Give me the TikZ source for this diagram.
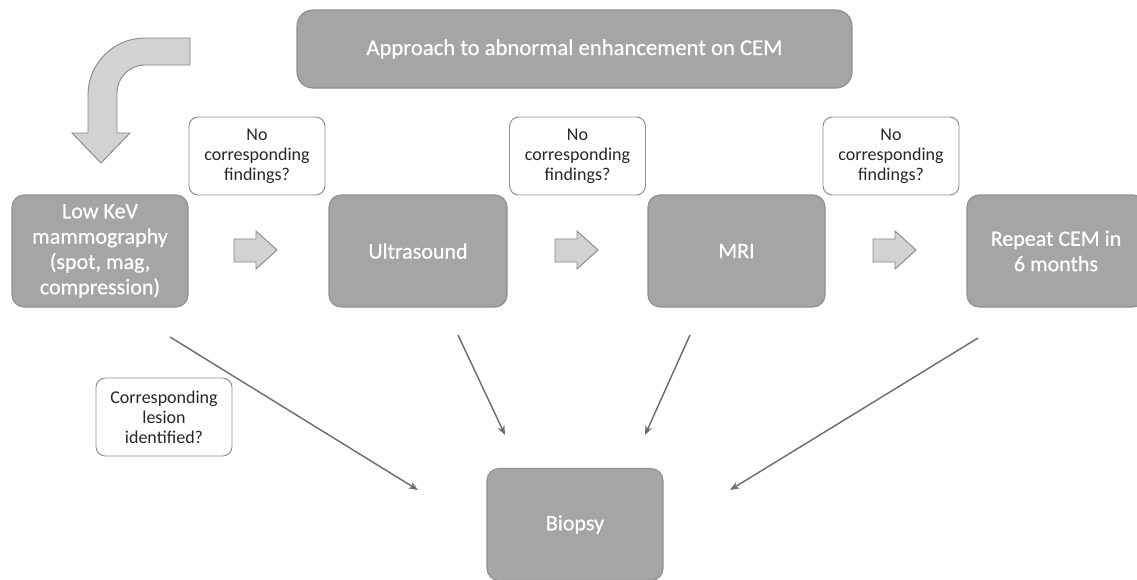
\documentclass[tikz,border=0pt]{standalone}
\usepackage{fontspec}
\setmainfont{Carlito}
\newfontfamily\boxfont[FakeBold=0.6]{Carlito}
\usetikzlibrary{arrows.meta,calc}
\definecolor{boxgray}{HTML}{A5A5A5}
\definecolor{boxedge}{HTML}{8E8E8E}
\definecolor{lightarrow}{HTML}{D2D2D2}
\definecolor{arrowedge}{HTML}{8A8A8A}
\definecolor{lineg}{HTML}{6F6F6F}
\tikzset{
  mainbox/.style={draw=boxedge, line width=0.8pt, fill=boxgray, rounded corners=9pt,
    text=white, align=center, inner sep=2pt,
    font=\boxfont\fontsize{16.5}{19}\selectfont},
  labelbox/.style={draw=boxedge, line width=0.7pt, fill=white, rounded corners=7pt,
    text=black!85, align=center, inner sep=2pt,
    minimum width=102pt, minimum height=58.5pt,
    font=\fontsize{13.5}{15}\selectfont},
  blockarrow/.style={draw=arrowedge, line width=0.7pt, fill=lightarrow, line join=miter},
  conn/.style={draw=lineg, line width=1.1pt, -{Stealth[length=7pt,width=5.5pt]}}
}
\begin{document}
\begin{tikzpicture}[x=0.75pt,y=-0.75pt]
\clip (0,0) rectangle (1137,579);
\fill[white] (0,0) rectangle (1137,579);

% title
\node[mainbox, rounded corners=12pt, minimum width=416.25pt, minimum height=58.5pt,
  font=\boxfont\fontsize{17}{20}\selectfont] (title) at (574.5,49) {Approach to abnormal enhancement on CEM};

% bent arrow
\path[blockarrow] (190,38) -- (145,38) .. controls (113.5,38) and (88,63.5) .. (88,95)
  -- (88,133) -- (72,133) -- (101,163) -- (130,133) -- (117,133) -- (117,93)
  .. controls (117,77.5) and (129.5,65) .. (145,65) -- (190,65) -- cycle;

% main boxes
\node[mainbox, minimum width=132pt, minimum height=84pt] (low) at (100,251)
  {Low KeV\\mammography\\(spot, mag,\\compression)};
\node[mainbox, minimum width=133.5pt, minimum height=84pt] (us) at (418,251) {Ultrasound};
\node[mainbox, minimum width=132.75pt, minimum height=84pt] (mri) at (736.5,251) {MRI};
\node[mainbox, minimum width=133.5pt, minimum height=84pt] (rep) at (1056,251) {Repeat CEM in\\6 months};
\node[mainbox, minimum width=132pt, minimum height=84pt] (bio) at (575,524.5) {Biopsy};

% label boxes
\node[labelbox] (l1) at (257,156) {No\\corresponding\\findings?};
\node[labelbox] (l2) at (577.5,156) {No\\corresponding\\findings?};
\node[labelbox] (l3) at (891,156) {No\\corresponding\\findings?};
\node[labelbox] (l4) at (164,417) {Corresponding\\lesion\\identified?};

% small block arrows
\foreach \x in {234,555,873}{
  \path[blockarrow] (\x,239) -- (\x+22,239) -- (\x+22,231) -- (\x+43,250) -- (\x+22,269)
    -- (\x+22,262) -- (\x,262) -- cycle;
}

% connectors to biopsy
\coordinate (s1) at (170,337);
\coordinate (e1) at (418,490);
\coordinate (s2) at (458,335);
\coordinate (e2) at (505,435);
\coordinate (s3) at (690,335);
\coordinate (e3) at (645,435);
\coordinate (s4) at (978,338);
\coordinate (e4) at (730,490);
\draw[conn] (s1) -- (e1);
\draw[conn] (s2) -- (e2);
\draw[conn] (s3) -- (e3);
\draw[conn] (s4) -- (e4);
\end{tikzpicture}
\end{document}
